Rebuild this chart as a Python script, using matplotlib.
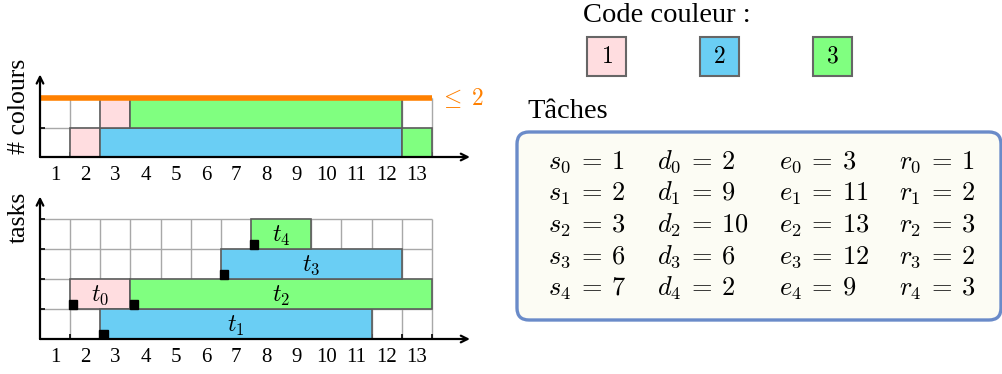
import matplotlib.pyplot as plt
from matplotlib.patches import Rectangle, FancyBboxPatch

plt.rcParams['font.family'] = ['Liberation Serif', 'DejaVu Serif']
plt.rcParams['mathtext.fontset'] = 'cm'

# tasks: release s, duration d, end e, colour r, row in the gantt
s = [1, 2, 3, 6, 7]
d = [2, 9, 10, 6, 2]
e = [3, 11, 13, 12, 9]
r = [1, 2, 3, 2, 3]
task_rows = [1, 0, 1, 2, 3]

# colours used per slot: first column, last column, level, colour
use_first = [2, 3, 13, 3, 4]
use_last = [2, 12, 13, 3, 12]
use_level = [0, 0, 0, 1, 1]
use_colour = [1, 2, 3, 1, 3]

cols = list(range(1, 14))
colour_max = 2
colour_codes = [1, 2, 3]

PINK = '#FFDDE0'
BLUE = '#6ACEF4'
GREEN = '#80FF80'
ORANGE = '#FF8000'
EDGE = '#5c5c5c'
GRID = '#a8a8a8'
fill = {1: PINK, 2: BLUE, 3: GREEN}

W, H = 1003, 374
fig = plt.figure(figsize=(W / 100, H / 100), dpi=100)

# overlay in pixel units for the right hand panel
ov = fig.add_axes([0, 0, 1, 1])
ov.set_xlim(0, W)
ov.set_ylim(H, 0)
ov.axis('off')


def add_ax(left, top, width, height):
    return fig.add_axes([left / W, 1 - (top + height) / H, width / W, height / H])


CW = 30.15  # pixels per column


def setup(ax, nrows, ytop, xend):
    ax.set_xlim(0.5, 14.9)
    ax.set_ylim(0, ytop)
    ax.patch.set_alpha(0)
    for sp in ax.spines.values():
        sp.set_visible(False)
    ax.set_xticks(cols)
    ax.set_xticklabels([str(c) for c in cols], fontsize=15)
    ax.set_yticks([])
    ax.set_xticks([c + 0.5 for c in cols], minor=True)
    ax.set_yticks(range(1, nrows + 1), minor=True)
    ax.tick_params(axis='x', which='major', length=0, pad=6.8)
    ax.tick_params(which='minor', direction='in', length=3.5, width=1.2)
    # grid
    ax.vlines([c + 0.5 for c in cols], 0, nrows, color=GRID, lw=1, zorder=1)
    ax.hlines(range(1, nrows + 1), 0.5, 13.5, color=GRID, lw=1, zorder=1)
    # axes arrows
    arr = dict(arrowstyle='->', lw=1.6, color='black', shrinkA=0, shrinkB=0,
               mutation_scale=12)
    ax.annotate('', xy=(xend, 0), xytext=(0.5, 0), arrowprops=arr,
                annotation_clip=False, zorder=5)
    ax.annotate('', xy=(0.5, ytop - 0.05), xytext=(0.5, 0), arrowprops=arr,
                annotation_clip=False, zorder=5)


# top chart: number of colours
ax1 = add_ax(40, 157 - 2.85 * 29.5, 14.4 * CW, 2.85 * 29.5)
setup(ax1, 2, 2.85, 14.76)
for f, l, lv, c in zip(use_first, use_last, use_level, use_colour):
    ax1.bar(f - 0.5, 1, width=l - f + 1, bottom=lv, align='edge',
            color=fill[c], edgecolor=EDGE, lw=1.2, zorder=2)
ax1.hlines(colour_max, 0.5, 13.5, color=ORANGE, lw=4, zorder=4)
ax1.text(13.75, colour_max, r'$\leq\;%d$' % colour_max, color=ORANGE,
         fontsize=17, va='center', ha='left')
fig.text(19 / W, 1 - 106 / H, '# colours', rotation=90, ha='center',
         va='center', fontsize=18.5)

# bottom chart: tasks
ax2 = add_ax(40, 339 - 4.8 * 30, 14.4 * CW, 4.8 * 30)
setup(ax2, 4, 4.8, 14.76)
for i in range(len(s)):
    start = e[i] - d[i] + 0.5
    ax2.bar(start, 1, width=d[i], bottom=task_rows[i], align='edge',
            color=fill[r[i]], edgecolor=EDGE, lw=1.2, zorder=2)
    ax2.text(start + d[i] / 2, task_rows[i] + 0.45, r'$t_{%d}$' % i,
             ha='center', va='center', fontsize=17, zorder=3)
    ax2.add_patch(Rectangle((s[i] + 0.47, task_rows[i]), 0.27, 0.29,
                            color='black', zorder=3))
fig.text(19 / W, 1 - 217 / H, 'tasks', rotation=90, ha='center',
         va='center', fontsize=18.5)

# colour code legend
ov.text(583, 22, 'Code couleur :', fontsize=20.5, ha='left', va='baseline')
for k, c in enumerate(colour_codes):
    x = 587 + k * 113
    ov.add_patch(Rectangle((x, 37), 39, 39, facecolor=fill[c],
                           edgecolor='#666666', lw=1.5))
    ov.text(x + 19.5, 57, r'$%d$' % c, fontsize=17, ha='center', va='center')

# task table
ov.text(527, 118, 'Tâches', fontsize=20.5, ha='left', va='baseline')
ov.add_patch(FancyBboxPatch((517, 132), 484, 188,
                            boxstyle='round,pad=0,rounding_size=12',
                            facecolor='#FCFCF4', edgecolor='#6A8BC9', lw=2.4))
col_x = [548, 657, 779, 899]
for i in range(len(s)):
    y = 169 + i * 31.6
    for x, name, vals in zip(col_x, 'sder', [s, d, e, r]):
        ov.text(x, y, r'$%s_{%d}\:=\:%d$' % (name, i, vals[i]), fontsize=19,
                ha='left', va='baseline')

fig.savefig('out.png', dpi=100)
